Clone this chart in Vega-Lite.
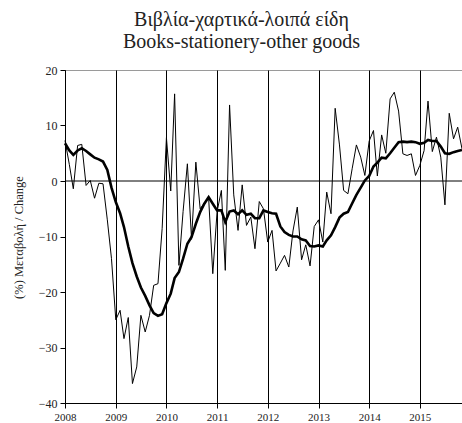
{
  "$schema": "https://vega.github.io/schema/vega-lite/v6.json",
  "width": 397,
  "height": 333,
  "autosize": "none",
  "padding": {"left": 65, "top": 70, "right": 0, "bottom": 20},
  "background": "white",
  "config": {"view": {"stroke": "#9a9a9a", "strokeWidth": 1}, "font": "Liberation Serif"},
  "title": {
    "text": ["Βιβλία-χαρτικά-λοιπά είδη", "Books-stationery-other goods"],
    "font": "Liberation Serif", "fontSize": 20, "fontWeight": "normal", "color": "#222",
    "anchor": "middle", "frame": "group", "dx": -22, "offset": 12, "lineHeight": 22
  },
  "data": {"values": [
    {"d":"2008-01-01","m":7.3,"t":6.8},{"d":"2008-02-01","m":3.0,"t":5.5},{"d":"2008-03-01","m":-1.4,"t":4.7},{"d":"2008-04-01","m":6.4,"t":5.5},{"d":"2008-05-01","m":6.6,"t":5.9},{"d":"2008-06-01","m":-0.8,"t":5.4},{"d":"2008-07-01","m":0.1,"t":4.8},{"d":"2008-08-01","m":-3.1,"t":4.2},{"d":"2008-09-01","m":-0.4,"t":3.9},{"d":"2008-10-01","m":-0.5,"t":3.5},{"d":"2008-11-01","m":-7.0,"t":2.0},{"d":"2008-12-01","m":-14.0,"t":-1.2},
    {"d":"2009-01-01","m":-25.0,"t":-3.8},{"d":"2009-02-01","m":-23.3,"t":-5.8},{"d":"2009-03-01","m":-28.4,"t":-8.3},{"d":"2009-04-01","m":-24.6,"t":-11.8},{"d":"2009-05-01","m":-36.5,"t":-14.8},{"d":"2009-06-01","m":-33.5,"t":-17.2},{"d":"2009-07-01","m":-24.2,"t":-19.2},{"d":"2009-08-01","m":-27.2,"t":-20.7},{"d":"2009-09-01","m":-24.2,"t":-22.4},{"d":"2009-10-01","m":-18.8,"t":-23.8},{"d":"2009-11-01","m":-18.5,"t":-24.3},{"d":"2009-12-01","m":-8.6,"t":-24.0},
    {"d":"2010-01-01","m":7.8,"t":-22.0},{"d":"2010-02-01","m":-1.8,"t":-20.3},{"d":"2010-03-01","m":15.7,"t":-17.5},{"d":"2010-04-01","m":-15.2,"t":-16.4},{"d":"2010-05-01","m":-5.5,"t":-14.0},{"d":"2010-06-01","m":3.1,"t":-11.3},{"d":"2010-07-01","m":-10.5,"t":-10.1},{"d":"2010-08-01","m":3.4,"t":-7.7},{"d":"2010-09-01","m":-5.0,"t":-5.6},{"d":"2010-10-01","m":-4.0,"t":-4.1},{"d":"2010-11-01","m":-3.0,"t":-2.9},{"d":"2010-12-01","m":-16.7,"t":-4.1},
    {"d":"2011-01-01","m":-5.5,"t":-5.3},{"d":"2011-02-01","m":-1.7,"t":-5.3},{"d":"2011-03-01","m":-16.1,"t":-7.4},{"d":"2011-04-01","m":13.7,"t":-5.5},{"d":"2011-05-01","m":-2.5,"t":-5.3},{"d":"2011-06-01","m":-8.9,"t":-6.0},{"d":"2011-07-01","m":-0.7,"t":-5.3},{"d":"2011-08-01","m":-8.0,"t":-6.1},{"d":"2011-09-01","m":-6.5,"t":-5.9},{"d":"2011-10-01","m":-12.2,"t":-6.7},{"d":"2011-11-01","m":-3.7,"t":-6.7},{"d":"2011-12-01","m":-5.0,"t":-5.3},
    {"d":"2012-01-01","m":-11.0,"t":-5.6},{"d":"2012-02-01","m":-8.9,"t":-5.8},{"d":"2012-03-01","m":-16.2,"t":-5.9},{"d":"2012-04-01","m":-14.8,"t":-8.2},{"d":"2012-05-01","m":-13.4,"t":-9.2},{"d":"2012-06-01","m":-15.5,"t":-9.7},{"d":"2012-07-01","m":-9.0,"t":-10.0},{"d":"2012-08-01","m":-4.7,"t":-10.0},{"d":"2012-09-01","m":-14.2,"t":-10.5},{"d":"2012-10-01","m":-11.5,"t":-10.7},{"d":"2012-11-01","m":-15.3,"t":-11.7},{"d":"2012-12-01","m":-8.2,"t":-11.8},
    {"d":"2013-01-01","m":-7.0,"t":-11.6},{"d":"2013-02-01","m":-11.0,"t":-11.8},{"d":"2013-03-01","m":-2.0,"t":-10.7},{"d":"2013-04-01","m":-5.9,"t":-9.8},{"d":"2013-05-01","m":13.1,"t":-8.3},{"d":"2013-06-01","m":6.5,"t":-6.6},{"d":"2013-07-01","m":-1.7,"t":-5.9},{"d":"2013-08-01","m":-2.3,"t":-5.6},{"d":"2013-09-01","m":2.3,"t":-4.0},{"d":"2013-10-01","m":6.5,"t":-2.5},{"d":"2013-11-01","m":4.3,"t":-1.2},{"d":"2013-12-01","m":1.0,"t":0.1},
    {"d":"2014-01-01","m":7.2,"t":0.9},{"d":"2014-02-01","m":9.1,"t":2.6},{"d":"2014-03-01","m":0.9,"t":3.3},{"d":"2014-04-01","m":8.3,"t":4.2},{"d":"2014-05-01","m":5.0,"t":4.1},{"d":"2014-06-01","m":14.8,"t":5.0},{"d":"2014-07-01","m":16.0,"t":6.0},{"d":"2014-08-01","m":12.6,"t":7.0},{"d":"2014-09-01","m":4.9,"t":7.1},{"d":"2014-10-01","m":4.6,"t":7.0},{"d":"2014-11-01","m":4.9,"t":7.1},{"d":"2014-12-01","m":1.0,"t":7.0},
    {"d":"2015-01-01","m":2.8,"t":6.7},{"d":"2015-02-01","m":5.5,"t":6.9},{"d":"2015-03-01","m":14.4,"t":7.4},{"d":"2015-04-01","m":5.3,"t":7.2},{"d":"2015-05-01","m":7.9,"t":7.2},{"d":"2015-06-01","m":4.3,"t":6.2},{"d":"2015-07-01","m":-4.3,"t":5.0},{"d":"2015-08-01","m":12.2,"t":4.9},{"d":"2015-09-01","m":7.6,"t":5.2},{"d":"2015-10-01","m":9.7,"t":5.4},{"d":"2015-11-01","m":5.8,"t":5.6}
  ]},
  "layer": [
    {
      "mark": {"type": "line", "color": "black", "strokeWidth": 1},
      "encoding": {
        "x": {
          "field": "d", "type": "temporal", "timeUnit": "utcyearmonth",
          "scale": {"domain": [{"year": 2008, "month": 1, "date": 1, "utc": true}, {"year": 2015, "month": 11, "date": 1, "utc": true}]},
          "axis": {
            "title": null, "format": "%Y", "formatType": "time",
            "values": [
              {"year": 2008, "month": 1, "date": 1, "utc": true},
              {"year": 2009, "month": 1, "date": 1, "utc": true},
              {"year": 2010, "month": 1, "date": 1, "utc": true},
              {"year": 2011, "month": 1, "date": 1, "utc": true},
              {"year": 2012, "month": 1, "date": 1, "utc": true},
              {"year": 2013, "month": 1, "date": 1, "utc": true},
              {"year": 2014, "month": 1, "date": 1, "utc": true},
              {"year": 2015, "month": 1, "date": 1, "utc": true}
            ],
            "grid": true, "gridColor": "black", "gridOpacity": 1, "gridWidth": 1,
            "domainColor": "black", "tickColor": "black", "tickSize": 5,
            "labelFont": "Liberation Serif", "labelFontSize": 11, "labelColor": "#222",
            "labelPadding": 3, "labelFlush": false
          }
        },
        "y": {
          "field": "m", "type": "quantitative",
          "scale": {"domain": [-40, 20], "nice": false},
          "axis": {
            "values": [-40, -30, -20, -10, 0, 10, 20], "grid": false,
            "domainColor": "black", "tickColor": "black", "tickSize": 5,
            "labelFont": "Liberation Serif", "labelFontSize": 12, "labelColor": "#222", "labelPadding": 3,
            "title": "(%) Μεταβολή / Change", "titleFont": "Liberation Serif", "titleFontSize": 12.5,
            "titleFontWeight": "normal", "titleColor": "#222",
            "titleX": -47, "titleY": 167, "titleAngle": 270, "titleAlign": "center", "titleBaseline": "middle"
          }
        }
      }
    },
    {
      "mark": {"type": "line", "color": "black", "strokeWidth": 2.6},
      "encoding": {
        "x": {"field": "d", "type": "temporal", "timeUnit": "utcyearmonth"},
        "y": {"field": "t", "type": "quantitative"}
      }
    },
    {
      "data": {"values": [{"z": 0}]},
      "mark": {"type": "rule", "color": "black", "strokeWidth": 1},
      "encoding": {"y": {"field": "z", "type": "quantitative"}}
    }
  ]
}
